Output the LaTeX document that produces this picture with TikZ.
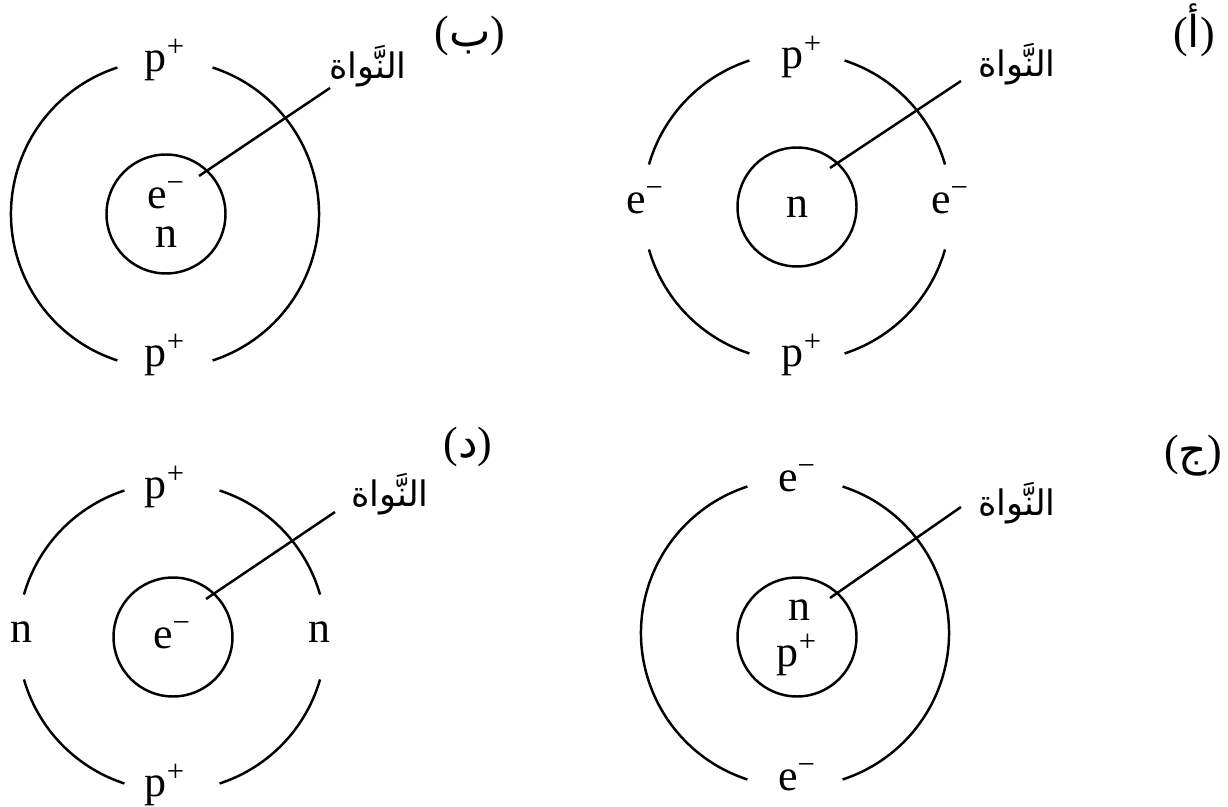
\documentclass[tikz,border=0pt]{standalone}
\usepackage{fontspec}
\setmainfont{Liberation Serif}
\newfontfamily\arabicfont[Script=Arabic]{DejaVu Sans}
\TeXXeTstate=1
\newcommand{\nawat}{\arabicfont\beginR النَّواة\endR}

\begin{document}
\begin{tikzpicture}[x=0.02cm,y=-0.02cm,line width=1.4pt,
  nucleus/.style={draw,circle,minimum size=2.38cm,inner sep=0pt},
  lbl/.style={font=\fontsize{25}{29}\selectfont,inner sep=0pt},
  arlbl/.style={font=\fontsize{20}{24}\selectfont,inner sep=0pt}]
  \useasboundingbox (0,0) rectangle (1228,807);

  % (b) top left
  \coordinate (Cb) at (165,214);
  \node[nucleus] (nb) at (166,214) {};
  \draw (Cb) ++(108:154) arc[start angle=108,end angle=252,radius=154];
  \draw (Cb) ++(-72:154) arc[start angle=-72,end angle=72,radius=154];
  \node[lbl] (pb1) at (165,60) {p\textsuperscript{+}};
  \node[lbl] (pb2) at (165,355) {p\textsuperscript{+}};
  \node[lbl] (eb) at (166,195) {e\textsuperscript{−}};
  \node[lbl] (ib) at (166,237) {n};
  \node[arlbl] (tb) at (368,66) {\nawat};
  \coordinate (lb0) at (199,176);
  \coordinate (lb1) at (330,88);
  \draw (lb0) -- (lb1);
  \node[lbl] (hb) at (470,36) {({\arabicfont ب})};

  % (a) top right
  \coordinate (Ca) at (797,207);
  \node[nucleus] (na) at (797,207) {};
  \foreach \a in {108,196,288,16}
    \draw (Ca) ++(\a:154) arc[start angle=\a,delta angle=56,radius=154];
  \node[lbl] (ea1) at (645,200) {e\textsuperscript{−}};
  \node[lbl] (ea2) at (950,200) {e\textsuperscript{−}};
  \node[lbl] (pa1) at (802,57) {p\textsuperscript{+}};
  \node[lbl] (pa2) at (802,355) {p\textsuperscript{+}};
  \node[lbl] (ia) at (797,207) {n};
  \node[arlbl] (ta) at (1017,64) {\nawat};
  \coordinate (la0) at (830,168);
  \coordinate (la1) at (961,81);
  \draw (la0) -- (la1);
  \node[lbl] (ha) at (1194,30) {({\arabicfont أ})};

  % (d) bottom left
  \coordinate (Cd) at (172,637);
  \node[nucleus] (nd) at (173,637) {};
  \foreach \a in {108,196,288,16}
    \draw (Cd) ++(\a:154) arc[start angle=\a,delta angle=56,radius=154];
  \node[lbl] (id1) at (21,632) {n};
  \node[lbl] (id2) at (319,632) {n};
  \node[lbl] (pd1) at (165,487) {p\textsuperscript{+}};
  \node[lbl] (pd2) at (165,785) {p\textsuperscript{+}};
  \node[lbl] (ed) at (172,635) {e\textsuperscript{−}};
  \node[arlbl] (td) at (390,494) {\nawat};
  \coordinate (ld0) at (206,599);
  \coordinate (ld1) at (335,512);
  \draw (ld0) -- (ld1);
  \node[lbl] (hd) at (468,447) {({\arabicfont د})};

  % (c) bottom right
  \coordinate (Cc) at (795,633);
  \node[nucleus] (nc) at (797,637) {};
  \draw (Cc) ++(108:154) arc[start angle=108,end angle=252,radius=154];
  \draw (Cc) ++(-72:154) arc[start angle=-72,end angle=72,radius=154];
  \node[lbl] (ec1) at (797,478) {e\textsuperscript{−}};
  \node[lbl] (ec2) at (797,777) {e\textsuperscript{−}};
  \node[lbl] (ic) at (799,610) {n};
  \node[lbl] (pc) at (797,655) {p\textsuperscript{+}};
  \node[arlbl] (tc) at (1017,503) {\nawat};
  \coordinate (lc0) at (830,598);
  \coordinate (lc1) at (961,507);
  \draw (lc0) -- (lc1);
  \node[lbl] (hc) at (1193,456) {({\arabicfont ج})};
\end{tikzpicture}
\end{document}
